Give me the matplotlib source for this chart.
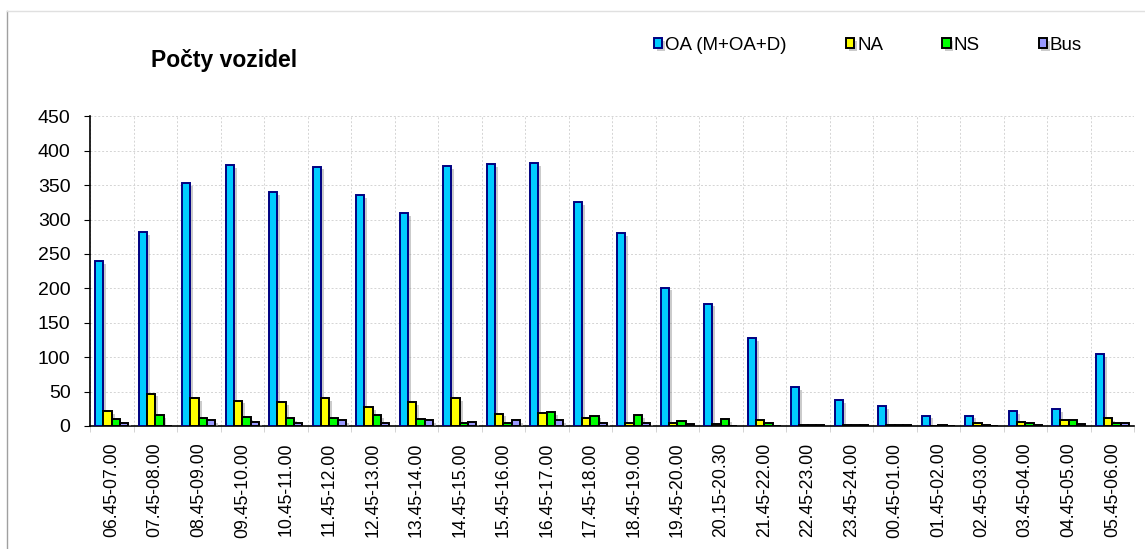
import matplotlib
matplotlib.use("Agg")
import matplotlib.pyplot as plt
import matplotlib.patheffects as pe
from matplotlib.lines import Line2D
import numpy as np

plt.rcParams['font.family'] = ['Liberation Sans', 'DejaVu Sans']

# time intervals
intervals = ["06.45-07.00", "07.45-08.00", "08.45-09.00", "09.45-10.00",
             "10.45-11.00", "11.45-12.00", "12.45-13.00", "13.45-14.00",
             "14.45-15.00", "15.45-16.00", "16.45-17.00", "17.45-18.00",
             "18.45-19.00", "19.45-20.00", "20.15-20.30", "21.45-22.00",
             "22.45-23.00", "23.45-24.00", "00.45-01.00", "01.45-02.00",
             "02.45-03.00", "03.45-04.00", "04.45-05.00", "05.45-06.00"]

oa = [240, 282, 353, 379, 340, 377, 336, 309, 378, 381, 382, 325,
      280, 201, 178, 128, 56, 38, 29, 15, 15, 22, 24, 104]
na = [22, 47, 41, 37, 35, 41, 28, 35, 40, 18, 19, 11,
      5, 5, 3, 9, 1, 1, 1, 0, 5, 6, 8, 12]
ns = [10, 16, 11, 13, 12, 12, 16, 10, 4, 5, 20, 15,
      16, 7, 10, 4, 2, 2, 1, 2, 2, 4, 8, 4]
bus = [5, 0, 9, 6, 4, 8, 4, 8, 6, 8, 9, 5,
       5, 3, 0, 0, 1, 1, 1, 0, 0, 2, 3, 4]

series = [
    ("OA (M+OA+D)", oa, "#00CCFF", "#000080"),
    ("NA", na, "#FFFF00", "#000000"),
    ("NS", ns, "#00FF00", "#000000"),
    ("Bus", bus, "#9999FF", "#000000"),
]

fig = plt.figure(figsize=(11.45, 5.49), dpi=100)
ax = fig.add_axes([90 / 1145, 1 - 426 / 549, 1044 / 1145, 309.6 / 549])

x = np.arange(len(intervals))
w = 0.19
shadow = [pe.SimplePatchShadow(offset=(2, -2), shadow_rgbFace="#999999", alpha=0.5),
          pe.Normal()]
for i, (name, vals, fc, ec) in enumerate(series):
    ax.bar(x + (i - 1.5) * w, vals, w, color=fc, edgecolor=ec, linewidth=1.4,
           label=name, zorder=3, path_effects=shadow)

ax.set_xlim(-0.5, len(intervals) - 0.5)
ax.set_ylim(0, 450)
ax.set_yticks(np.arange(0, 451, 50))
ax.set_xticks(x)
ax.set_xticklabels(intervals, rotation=90, fontsize=12.7)
ax.set_xticks(np.arange(-0.5, len(intervals), 1), minor=True)
ax.tick_params(axis="x", which="major", length=0, pad=12)
ax.tick_params(axis="x", which="minor", length=4, color="#cccccc")
ax.tick_params(axis="y", labelsize=14, length=4, pad=10)

ax.grid(axis="y", color="#d4d4d4", linestyle=(0, (2, 2)), linewidth=0.7, zorder=0)
ax.grid(axis="x", which="minor", color="#d4d4d4", linestyle=(0, (2, 2)),
        linewidth=0.7, zorder=0)
for s in ["top", "right"]:
    ax.spines[s].set_visible(False)
ax.spines["left"].set_linewidth(1.2)
ax.spines["bottom"].set_linewidth(1.2)

fig.text(224 / 1145, 1 - 60 / 549, "Počty vozidel", ha="center", va="center",
         fontsize=16.5, fontweight="bold")

fig.legend(loc="center left", bbox_to_anchor=(654 / 1145, 1 - 45 / 549),
           ncol=4, frameon=False, fontsize=13.5, handlelength=0.45,
           handleheight=0.45, handletextpad=0.15, columnspacing=3.15,
           borderpad=0, borderaxespad=0)

# outer chart border
fig.add_artist(Line2D([7 / 1145, 7 / 1145], [0, 1 - 11 / 549],
                      transform=fig.transFigure, color="#a0a0a0", lw=1))
fig.add_artist(Line2D([7 / 1145, 1], [1 - 11 / 549, 1 - 11 / 549],
                      transform=fig.transFigure, color="#e0e0e0", lw=1))

fig.savefig("out.png", dpi=100)
